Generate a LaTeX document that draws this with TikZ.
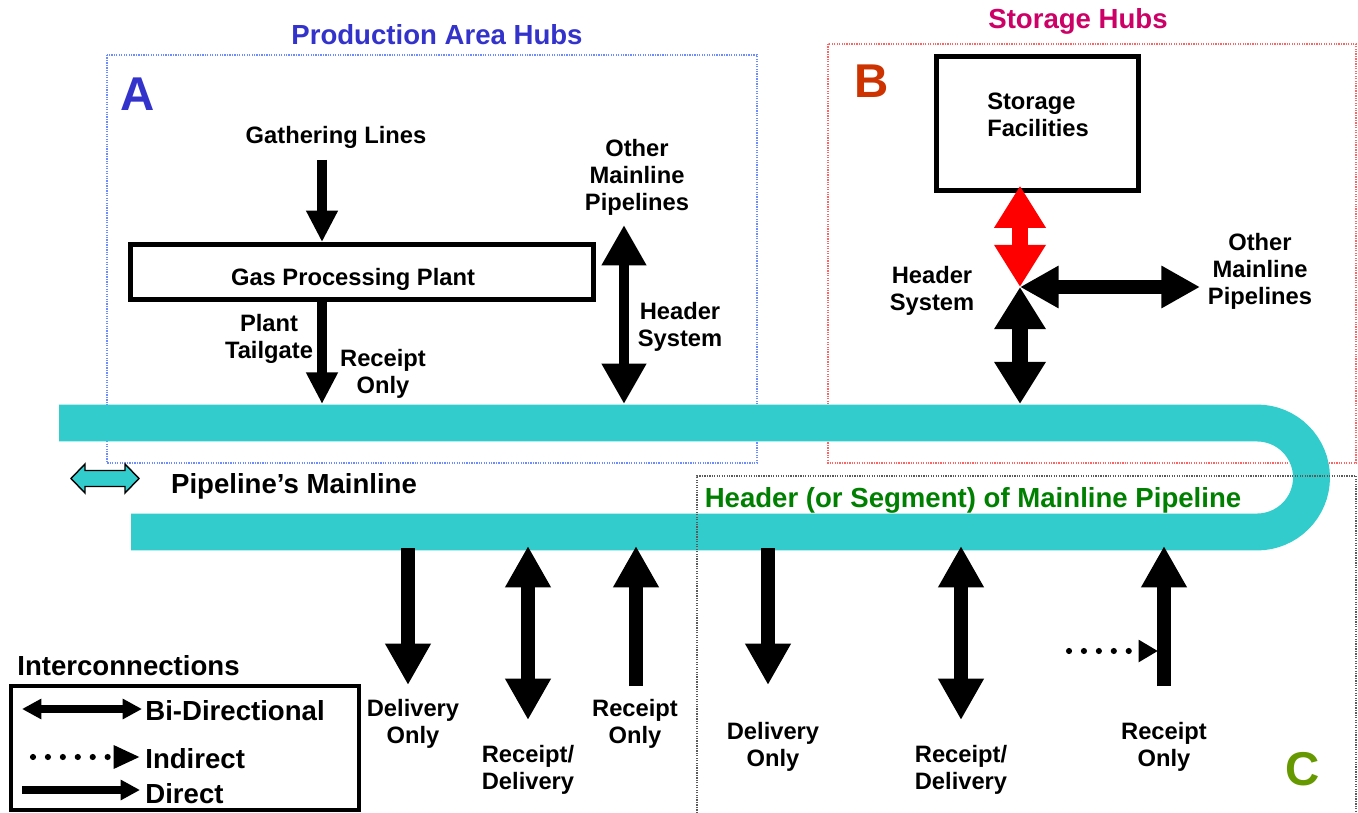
\documentclass[tikz,border=0pt]{standalone}
\usepackage{fontspec}
\setmainfont{Liberation Sans}
\usetikzlibrary{arrows.meta,positioning}
\definecolor{pipecyan}{RGB}{51,204,204}
\definecolor{hubblue}{RGB}{51,51,204}
\definecolor{hubmagenta}{RGB}{204,0,102}
\definecolor{hubrust}{RGB}{204,51,0}
\definecolor{hubgreen}{RGB}{0,128,0}
\definecolor{hubolive}{RGB}{102,153,0}
\definecolor{frameblue}{RGB}{110,140,255}
\definecolor{framered}{RGB}{255,100,100}
\definecolor{framegray}{RGB}{90,90,90}

\begin{document}
\begin{tikzpicture}[x=0.02cm, y=-0.02cm,
    txt/.style={font=\fontsize{13.5}{15.4}\selectfont\bfseries, align=center, inner sep=0pt, yshift=-1.1pt},
    headline/.style={font=\fontsize{15.7}{18}\selectfont\bfseries, inner sep=0pt, yshift=-1.1pt},
    hubletter/.style={font=\fontsize{27}{30}\selectfont\bfseries, inner sep=0pt},
    hubframe/.style={line width=0.6pt, dash pattern=on 0.7pt off 0.7pt},
    tube/.style={pipecyan, line width=21pt},
    facility/.style={rectangle, draw, fill=white, line width=2.8pt, inner sep=0pt},
    feed/.style={line width=5.7pt, -{Triangle[length=18pt,width=17pt]}},
    twoway/.style={line width=5.7pt, {Triangle[length=23pt,width=24pt]}-{Triangle[length=23pt,width=24pt]}},
    hubway/.style={line width=9pt, {Triangle[length=24pt,width=27.8pt]}-{Triangle[length=24pt,width=27.8pt]}},
    sideway/.style={line width=8pt, {Triangle[length=22pt,width=22.7pt]}-{Triangle[length=22pt,width=22.7pt]}},
    tapout/.style={line width=7.9pt, -{Triangle[length=23.5pt,width=24.4pt]}},
    tapboth/.style={line width=7.9pt, {Triangle[length=23.5pt,width=24.4pt]}-{Triangle[length=23.5pt,width=24.4pt]}},
    dotline/.style={line width=3.5pt, line cap=round, dash pattern=on 0pt off 8.5pt},
    keyarrow/.style={line width=4pt, -{Triangle[length=11pt,width=11pt]}}
]
    \useasboundingbox (0,0) rectangle (1358,813);

    % Hub frames
    \draw[hubframe, frameblue] (107,55) rectangle (757,463);
    \draw[hubframe, framered] (828,44) rectangle (1356,463);

    % Mainline pipe
    \draw[tube] (59,423) -- (1257,423) arc[start angle=-90, end angle=90, radius=54.5] -- (131,532);
    \draw[hubframe, framegray] (697,813) -- (697,476) -- (1356,476) -- (1356,813);

    % Titles and letters
    \node[headline, text=hubblue] (titleA) at (437,33) {Production Area Hubs};
    \node[headline, text=hubmagenta] (titleB) at (1078,20) {Storage Hubs};
    \node[hubletter, text=hubblue] (hubA) at (138,94) {A};
    \node[hubletter, text=hubrust] (hubB) at (872,81) {B};
    \node[hubletter, text=hubolive] (hubC) at (1303,769) {C};

    % Production area
    \node[txt] (gather) at (336,135) {Gathering Lines};
    \node[facility, minimum width=263.6pt, minimum height=31.2pt] (plant) at (362,272) {};
    \node[txt] (plantname) at (353,277) {Gas Processing Plant};
    \node[txt] (tailgate) at (269,337) {Plant\\Tailgate};
    \node[txt] (rcptA) at (383,372) {Receipt\\Only};
    \node[txt] (otherA) at (637,175) {Other\\Mainline\\Pipelines};
    \node[txt] (headerA) at (680,325) {Header\\System};

    % Storage area
    \node[facility, minimum width=114.5pt, minimum height=76pt] (store) at (1037.5,123.5) {};
    \node[txt, align=left] (storename) at (1038,113) {Storage\\Facilities};
    \node[txt] (headerB) at (932,289) {Header\\System};
    \node[txt] (otherB) at (1260,269) {Other\\Mainline\\Pipelines};

    % Pipe labels
    \node[headline] (mainline) at (294,484) {Pipeline’s Mainline};
    \node[headline, text=hubgreen] (segment) at (973,498) {Header (or Segment) of Mainline Pipeline};
    \draw[fill=pipecyan, line width=0.8pt] (71,478.5) -- (85,464) -- (85,470.5) -- (125,470.5) -- (125,464)
        -- (139,478.5) -- (125,493) -- (125,486.5) -- (85,486.5) -- (85,493) -- cycle;

    % Taps on the pipe
    \coordinate (gatherEnd) at (322,160);
    \coordinate (tapPlant) at (322,404);
    \coordinate (headTopA) at (624,225);
    \coordinate (tapHeadA) at (624,404);
    \coordinate (hub) at (1020,287);
    \coordinate (tapHeadB) at (1020,404);
    \coordinate (sideEnd) at (1200,287);

    \draw[feed] (gatherEnd) -- (plant.north -| gatherEnd);
    \draw[feed] (plant.south -| tapPlant) -- (tapPlant);
    \draw[twoway] (headTopA) -- (tapHeadA);
    \draw[hubway, red, shorten >=-4pt] (hub) -- (store.south -| hub);
    \draw[hubway] (hub) -- (tapHeadB);
    \draw[sideway] (hub) -- (sideEnd);

    % Lower taps
    \coordinate (d1a) at (408,548);  \coordinate (d1b) at (408,685);
    \coordinate (r1a) at (528,546);  \coordinate (r1b) at (528,720);
    \coordinate (o1a) at (636,546);  \coordinate (o1b) at (636,686);
    \coordinate (d2a) at (768,548);  \coordinate (d2b) at (768,685);
    \coordinate (r2a) at (961,546);  \coordinate (r2b) at (961,720);
    \coordinate (o2a) at (1164,546); \coordinate (o2b) at (1164,686);
    \coordinate (indA) at (1069,651); \coordinate (indB) at (1158,651);

    \draw[tapout] (d1a) -- (d1b);
    \draw[tapboth] (r1a) -- (r1b);
    \draw[tapout] (o1b) -- (o1a);
    \draw[tapout] (d2a) -- (d2b);
    \draw[tapboth] (r2a) -- (r2b);
    \draw[tapout] (o2b) -- (o2a);
    \draw[dotline, -{Triangle[length=11pt,width=12pt]}] (indA) -- (indB);

    \node[txt] (dlv1) at (413,722) {Delivery\\Only};
    \node[txt] (rd1) at (528,768) {Receipt/\\Delivery};
    \node[txt] (ro1) at (635,722) {Receipt\\Only};
    \node[txt] (dlv2) at (773,745) {Delivery\\Only};
    \node[txt] (rd2) at (961,768) {Receipt/\\Delivery};
    \node[txt] (ro2) at (1164,745) {Receipt\\Only};

    % Legend
    \node[headline, anchor=west] (keytitle) at (17,664) {Interconnections};
    \draw[line width=1.8pt] (11,686) rectangle (359,810);
    \coordinate (k1a) at (22,709);  \coordinate (k1b) at (142,709);
    \coordinate (k2a) at (33,757);  \coordinate (k2b) at (140,757);
    \coordinate (k3a) at (22,790);  \coordinate (k3b) at (140,790);
    \draw[keyarrow, {Triangle[length=11pt,width=11pt]}-{Triangle[length=11pt,width=11pt]}] (k1a) -- (k1b);
    \draw[dotline, -{Triangle[length=15pt,width=12.5pt]}] (k2a) -- (k2b);
    \draw[keyarrow] (k3a) -- (k3b);
    \node[headline, anchor=west] (keybi) at (145,709) {Bi-Directional};
    \node[headline, anchor=west] (keyind) at (145,757) {Indirect};
    \node[headline, anchor=west] (keydir) at (145,792) {Direct};
\end{tikzpicture}
\end{document}
